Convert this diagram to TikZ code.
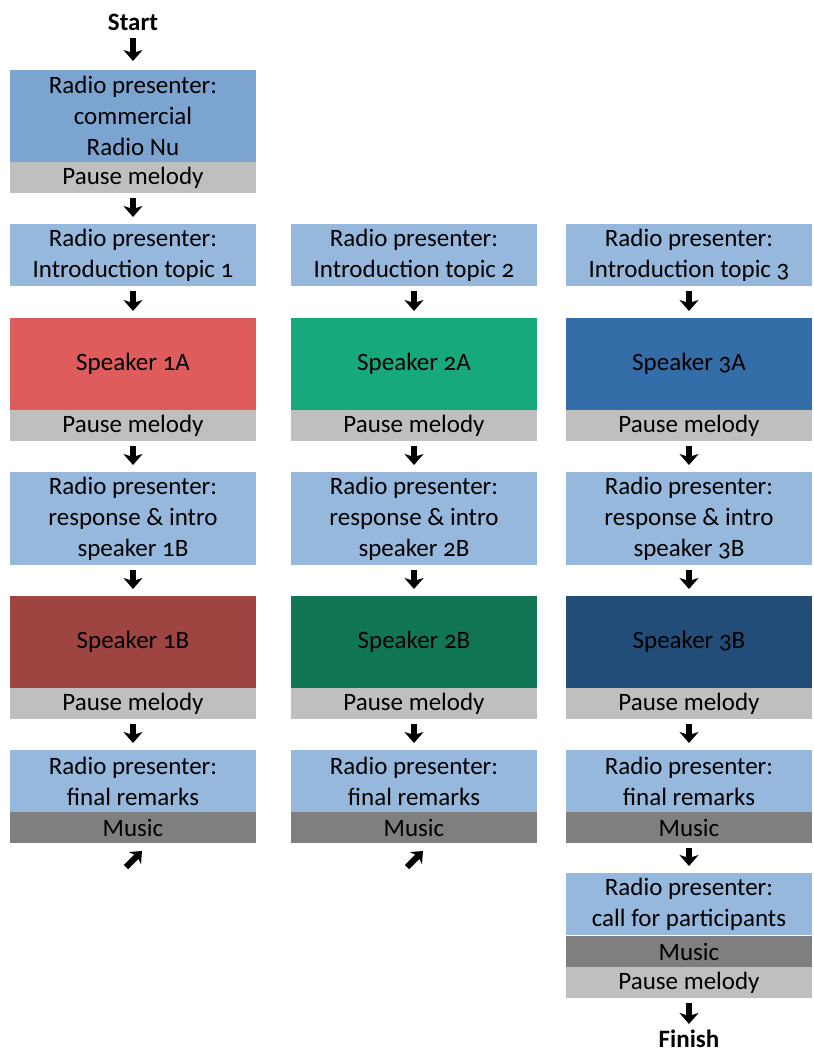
\documentclass[tikz,border=0pt]{standalone}
\usepackage{fontspec}
\setmainfont{Carlito}[Numbers=OldStyle]
\usetikzlibrary{arrows.meta}
\definecolor{topblue}{HTML}{7BA4D0}
\definecolor{lblue}{HTML}{95B8DC}
\definecolor{pausegray}{HTML}{BFBFBF}
\definecolor{musicgray}{HTML}{7F7F7F}
\definecolor{redA}{HTML}{DE5C5C}
\definecolor{greenA}{HTML}{17A97B}
\definecolor{blueA}{HTML}{336EA8}
\definecolor{redB}{HTML}{9E4441}
\definecolor{greenB}{HTML}{107656}
\definecolor{blueB}{HTML}{214D78}
\tikzset{
  box/.style={rectangle, minimum width=246pt, inner sep=0pt, align=center, font=\fontsize{25}{31}\selectfont, anchor=north},
  pause/.style={box, fill=pausegray, minimum height=31pt},
  music/.style={box, fill=musicgray, minimum height=31pt},
  pres/.style={box, fill=lblue, minimum height=62pt},
  pres3/.style={box, fill=lblue, minimum height=93pt},
  spk/.style={box, minimum height=92pt},
  term/.style={font=\fontsize{25}{28}\selectfont\bfseries, inner sep=0pt},
  arr/.style={line width=6pt, -{Stealth[length=11pt,width=19pt,inset=3pt]}, shorten <=5pt, shorten >=7pt},
  darr/.style={line width=6pt, -{Stealth[length=10pt,width=17pt,inset=3pt]}},
}
\begin{document}
\begin{tikzpicture}[x=1pt,y=-1pt]
\useasboundingbox (0,0) rectangle (814,1055);
% column 1 top
\node[term] (start) at (133,22) {Start};
\node[box, fill=topblue, minimum height=92pt] (nu) at (133,70) {Radio presenter:\\commercial\\Radio Nu};
\node[pause] (p0) at (133,162) {Pause melody};
\draw[arr, shorten <=8pt, shorten >=9pt] (start.south) -- (nu.north);
% columns
\foreach \c/\x/\ca/\cb in {1/133/redA/redB, 2/414/greenA/greenB, 3/689/blueA/blueB}{
  \node[pres] (intro\c) at (\x,224) {Radio presenter:\\Introduction topic \c};
  \node[spk, fill=\ca] (sa\c) at (\x,318) {Speaker \c A};
  \node[pause] (pa\c) at (\x,410) {Pause melody};
  \node[pres3] (resp\c) at (\x,472) {Radio presenter:\\response \& intro\\speaker \c B};
  \node[spk, fill=\cb] (sb\c) at (\x,596) {Speaker \c B};
  \node[pause] (pb\c) at (\x,688) {Pause melody};
  \node[pres] (fin\c) at (\x,750) {Radio presenter:\\final remarks};
  \node[music] (mu\c) at (\x,812) {Music};
  \draw[arr] (intro\c) -- (sa\c);
  \draw[arr] (pa\c) -- (resp\c);
  \draw[arr] (resp\c) -- (sb\c);
  \draw[arr] (pb\c) -- (fin\c);
}
\draw[arr] (p0) -- (intro1);
\node[pres] (call) at (689,873) {Radio presenter:\\call for participants};
\node[music] (mu4) at (689,936) {Music};
\node[pause] (pz) at (689,967) {Pause melody};
\node[term] (finish) at (689,1039) {Finish};
\draw[arr] (mu3) -- (call);
\draw[arr, shorten >=6pt] (pz) -- (finish);
\coordinate (d1s) at (126,867); \coordinate (d1e) at (142,851);
\coordinate (d2s) at (407,867); \coordinate (d2e) at (423,851);
\draw[darr] (d1s) -- (d1e);
\draw[darr] (d2s) -- (d2e);
\end{tikzpicture}
\end{document}
